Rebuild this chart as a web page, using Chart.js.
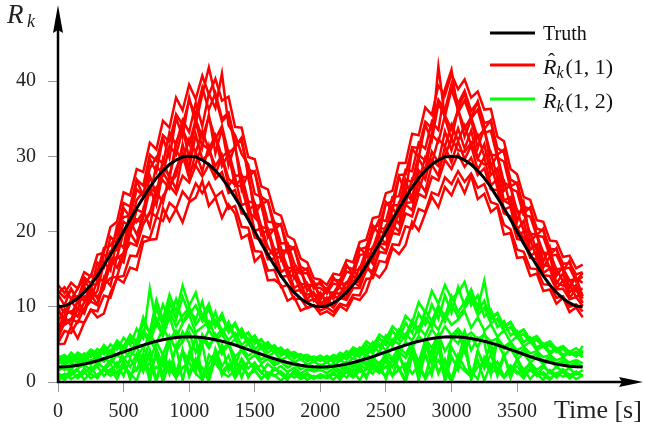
<!DOCTYPE html>
<html>
<head>
<meta charset="utf-8">
<script src="https://cdn.jsdelivr.net/npm/chart.js@4.4.1/dist/chart.umd.min.js"></script>
<style>
  html, body { margin: 0; padding: 0; background: #fff; }
  #wrap { width: 645px; height: 433px; }
</style>
</head>
<body>
<div id="wrap"><canvas id="chart" width="645" height="433"></canvas></div>
<script>
// sample times [s]
const times = [0,50,100,150,200,250,300,350,400,450,500,550,600,650,700,750,800,850,900,950,
  1000,1050,1100,1150,1200,1250,1300,1350,1400,1450,1500,1550,1600,1650,1700,1750,1800,1850,1900,1950,
  2000,2050,2100,2150,2200,2250,2300,2350,2400,2450,2500,2550,2600,2650,2700,2750,2800,2850,2900,2950,
  3000,3050,3100,3150,3200,3250,3300,3350,3400,3450,3500,3550,3600,3650,3700,3750,3800,3850,3900,3950,4000];

// true values
const truth11 = [10,10.1,10.5,11.1,11.9,12.9,14.1,15.5,16.9,18.4,20,21.6,23.1,24.5,25.9,27.1,28.1,28.9,29.5,29.9,
  30,29.9,29.5,28.9,28.1,27.1,25.9,24.5,23.1,21.6,20,18.4,16.9,15.5,14.1,12.9,11.9,11.1,10.5,10.1,
  10,10.1,10.5,11.1,11.9,12.9,14.1,15.5,16.9,18.4,20,21.6,23.1,24.5,25.9,27.1,28.1,28.9,29.5,29.9,
  30,29.9,29.5,28.9,28.1,27.1,25.9,24.5,23.1,21.6,20,18.4,16.9,15.5,14.1,12.9,11.9,11.1,10.5,10.1,10];
const truth12 = [2,2.02,2.1,2.22,2.38,2.59,2.82,3.09,3.38,3.69,4,4.31,4.62,4.91,5.18,5.41,5.62,5.78,5.9,5.98,
  6,5.98,5.9,5.78,5.62,5.41,5.18,4.91,4.62,4.31,4,3.69,3.38,3.09,2.82,2.59,2.38,2.22,2.1,2.02,
  2,2.02,2.1,2.22,2.38,2.59,2.82,3.09,3.38,3.69,4,4.31,4.62,4.91,5.18,5.41,5.62,5.78,5.9,5.98,
  6,5.98,5.9,5.78,5.62,5.41,5.18,4.91,4.62,4.31,4,3.69,3.38,3.09,2.82,2.59,2.38,2.22,2.1,2.02,2];

// estimates R(1,1), one array per run
const red1 = [5.2,6.8,6.5,8.1,7.9,9.6,9.4,11.5,11.2,13.9,14.1,16.8,16.7,19.4,19.1,21.9,21.4,23.8,23.0,25.3,
  24.2,26.4,25.1,26.5,24.6,25.3,23.0,23.4,20.6,20.5,17.4,17.3,14.8,14.9,12.6,12.9,11.0,11.1,9.8,10.2,
  9.5,9.9,9.3,10.4,10.1,11.6,11.5,13.7,13.8,16.1,15.9,18.3,18.2,20.7,20.4,23.0,22.6,25.2,24.8,27.2,
  26.3,28.0,26.6,27.7,25.8,26.3,23.9,23.6,20.9,20.3,17.6,17.3,15.1,15.0,13.0,12.9,11.2,11.4,10.0,10.3,9.4];
const red2 = [11.8,12.6,11.0,12.4,13.9,13.1,14.6,17.8,18.1,19.7,23.8,23.3,26.9,26.1,30.2,29.4,32.8,31.9,35.6,34.2,
  37.4,35.5,39.1,36.2,38.4,35.0,35.8,32.0,31.9,28.2,27.9,24.6,24.0,21.1,20.9,18.2,17.8,15.3,14.9,13.1,
  13.0,12.3,13.6,13.5,15.3,15.0,17.6,17.9,20.6,20.8,23.7,24.0,27.5,27.6,31.2,31.1,34.6,33.7,37.5,36.1,
  39.6,37.0,38.7,36.0,37.2,34.4,34.7,31.1,30.5,26.9,26.4,23.3,23.0,20.4,20.1,17.7,17.6,15.7,15.8,14.3,14.6];
const red3 = [7.2,8.9,9.4,8.7,10.6,11.9,11.3,12.6,15.8,16.4,17.1,20.3,21.6,21.0,22.4,25.9,26.8,25.7,28.3,30.4,
  28.1,29.0,31.6,30.9,28.7,30.1,27.0,26.2,26.0,22.6,21.9,20.8,17.9,16.7,16.5,14.2,14.1,12.2,11.6,11.8,
  10.5,10.9,11.4,11.1,12.5,13.4,13.2,14.8,17.1,18.4,18.3,19.8,22.7,23.8,23.9,25.4,28.2,29.5,28.7,30.0,
  32.4,30.8,30.6,31.8,29.6,28.9,29.0,25.8,24.1,23.6,20.4,19.1,18.9,16.5,15.6,15.3,13.2,12.8,12.9,11.3,11.7];
const red4 = [10.3,9.2,10.9,11.4,10.8,12.9,13.0,15.6,17.4,17.5,21.3,20.7,24.2,25.3,24.9,28.7,27.6,31.4,30.2,33.5,
  31.6,34.9,32.5,35.2,32.3,34.0,30.4,31.2,27.3,27.1,23.5,23.4,20.2,20.3,17.5,17.4,14.9,14.8,12.9,12.9,
  11.5,12.1,11.8,13.2,13.0,14.8,15.0,17.5,17.7,20.4,20.4,23.5,23.5,26.9,26.6,30.2,29.4,32.9,31.9,35.4,
  33.6,36.1,33.7,35.2,32.5,33.6,30.2,30.1,26.5,26.0,22.7,22.5,19.7,19.6,17.2,17.0,15.0,15.1,13.5,13.7,13.2];
const red5 = [5.8,7.9,8.4,7.9,9.8,10.7,10.2,12.9,13.8,14.0,17.0,18.5,18.1,21.0,22.6,22.0,24.7,26.1,25.0,27.4,
  26.5,28.8,27.3,28.9,27.0,27.9,25.1,25.5,22.4,22.3,19.2,18.9,16.3,16.4,14.0,14.1,12.1,12.2,10.7,11.0,
  10.0,10.5,9.9,11.2,10.9,12.5,12.5,14.9,14.8,17.3,17.1,19.8,19.6,22.4,22.0,25.0,24.5,27.3,26.8,29.5,
  28.3,30.3,28.6,29.8,27.5,28.4,25.6,25.5,22.4,22.0,19.0,18.8,16.5,16.3,14.2,14.1,12.3,12.4,11.0,11.3,10.1];
const red6 = [12.1,11.2,12.3,10.9,12.8,14.2,13.7,16.9,16.6,20.8,21.9,22.1,25.6,24.7,28.4,29.9,29.0,33.2,31.5,34.8,
  33.2,37.1,34.0,38.3,36.4,41.0,34.1,32.8,30.3,28.9,25.0,24.6,21.3,21.2,18.4,18.5,15.8,14.4,14.5,12.6,
  12.5,11.8,13.1,12.8,14.7,14.3,16.9,17.0,19.8,21.6,21.4,24.6,24.7,28.2,28.0,31.8,31.0,34.6,33.5,38.9,
  41.5,35.8,37.4,35.0,36.2,33.1,33.4,29.8,29.3,25.7,25.3,22.2,22.0,19.4,19.3,16.8,16.9,15.0,15.2,13.4,14.0];
const red7 = [8.0,9.7,9.1,10.6,11.4,11.0,13.5,13.6,16.3,16.6,19.9,19.7,22.9,22.5,25.8,25.1,28.4,27.5,30.8,29.4,
  32.3,30.5,33.3,30.9,32.8,29.9,30.7,27.4,27.5,24.0,23.8,20.6,20.4,17.6,17.6,15.2,15.1,13.0,13.0,11.5,
  11.6,10.9,11.9,11.7,13.3,13.0,15.3,15.5,18.0,18.1,20.8,20.8,23.9,23.7,27.0,26.6,29.9,29.1,32.3,31.3,
  34.2,32.1,34.1,31.5,32.8,30.0,30.5,27.0,26.8,23.3,22.9,20.1,19.9,17.5,17.3,15.1,15.0,13.4,13.5,12.2,12.4];
const red8 = [12.9,11.8,13.2,12.4,14.6,14.0,16.9,17.2,20.6,21.3,25.2,24.8,28.3,27.9,31.8,30.9,34.7,33.8,37.8,36.1,
  39.5,37.6,40.7,38.2,40.3,37.4,37.9,33.9,33.8,29.9,29.6,26.0,25.6,22.5,22.1,19.4,18.9,16.4,15.9,13.8,
  13.6,12.9,14.4,14.2,16.2,15.9,18.6,18.9,21.8,22.0,25.1,25.4,29.1,29.1,33.0,32.8,36.5,35.5,39.4,38.1,
  40.9,38.9,40.2,37.8,38.6,36.2,36.3,32.6,32.0,28.3,27.6,24.6,24.2,21.5,21.3,18.8,18.7,16.6,16.8,15.1,15.6];
const red9 = [5.0,5.1,7.4,5.8,7.9,9.6,8.6,9.1,11.9,13.8,13.2,15.2,14.9,18.6,18.9,19.0,23.1,21.4,23.0,21.2,
  23.9,24.5,26.7,23.4,24.5,21.8,23.6,22.4,19.1,19.6,16.0,16.9,13.5,13.6,12.9,10.8,11.3,9.5,9.9,10.2,
  9.0,9.4,8.8,10.1,9.5,11.2,10.9,12.0,14.6,13.9,15.1,17.8,17.0,18.2,21.3,20.1,22.4,24.6,23.2,25.9,
  24.8,26.9,25.1,27.4,24.3,25.0,22.6,23.3,19.6,19.8,16.5,16.6,14.1,14.4,12.1,12.3,10.4,11.2,9.3,9.9,8.6];
const red10 = [9.6,8.1,10.8,9.5,12.7,10.9,12.1,15.9,14.8,18.9,17.8,23.0,21.3,22.6,27.4,24.9,29.6,27.0,31.9,33.8,
  29.7,34.6,31.2,35.5,30.4,33.7,28.8,31.5,25.6,27.8,22.1,23.9,19.2,20.4,16.3,17.9,13.8,15.0,12.1,13.3,
  10.9,12.4,11.0,13.5,12.2,14.9,13.9,17.6,16.2,20.3,19.4,23.1,22.0,26.8,24.3,29.7,28.1,32.6,41.9,35.1,
  32.2,36.3,32.6,34.9,31.1,33.8,28.7,30.1,25.4,26.2,21.3,23.9,18.7,19.6,16.0,17.9,14.1,15.3,12.6,13.9,11.4];
const red11 = [6.4,8.7,7.5,9.8,9.1,11.6,10.3,13.9,12.8,16.7,15.9,19.8,18.4,22.9,20.6,25.4,23.8,27.5,25.6,30.2,
  27.1,30.5,28.0,31.4,27.6,30.0,26.1,27.2,23.5,23.9,20.1,20.4,16.8,17.7,14.6,15.2,12.5,13.1,11.0,11.9,
  10.1,11.2,9.9,11.8,11.1,13.3,12.7,15.6,14.1,18.2,17.4,20.9,20.0,23.6,22.8,26.7,25.3,28.9,27.4,31.3,
  29.2,32.0,29.6,31.4,28.2,29.9,26.1,27.0,22.9,23.3,19.3,20.0,16.8,17.3,14.5,15.1,12.4,13.5,11.2,12.3,10.5];
const red12 = [11.6,10.2,12.4,10.9,13.6,12.1,15.9,15.2,19.3,18.4,23.1,21.9,26.8,24.7,29.6,27.9,32.4,29.8,35.1,32.6,
  37.8,34.3,38.2,41.8,37.9,34.6,35.6,31.2,32.5,27.3,28.0,23.6,24.1,20.3,21.0,17.2,17.9,14.6,15.1,12.4,
  13.4,11.8,13.9,12.8,15.6,14.2,17.8,16.9,20.8,19.6,23.9,22.8,27.3,25.1,31.0,29.8,34.2,32.1,37.0,35.3,
  38.9,36.2,38.4,35.1,37.3,33.6,34.8,30.2,30.9,26.0,26.5,22.4,23.2,19.5,20.4,16.9,17.8,14.8,16.1,13.4,14.5];
const red13 = [9.9,7.6,8.2,10.9,9.3,12.6,11.1,12.4,16.3,15.2,17.1,21.4,19.6,21.8,25.7,23.5,27.9,26.3,27.4,31.6,
  28.4,32.9,29.6,30.2,32.5,28.7,30.3,26.1,27.0,22.8,23.6,19.5,20.3,16.6,17.8,14.3,15.2,12.0,13.1,10.8,
  11.9,10.3,11.7,12.6,11.6,14.1,13.4,16.9,15.7,19.4,18.3,22.1,21.0,25.2,24.0,28.1,26.9,30.6,29.2,33.3,
  30.8,33.7,31.0,33.4,29.7,31.6,27.5,28.4,24.1,24.6,20.2,21.4,17.6,18.3,15.2,16.7,13.1,14.4,11.9,12.9,11.1];

// estimates R(1,2), one array per run
const green1 = [0.6,1.1,0.4,0.9,1.3,0.5,1.0,1.6,0.8,1.4,1.9,1.0,1.7,2.4,0.9,2.0,1.2,2.8,0.6,1.9,
  2.6,1.1,0.3,1.8,2.5,1.3,0.7,1.6,2.2,0.9,1.5,0.5,1.2,0.8,1.4,0.6,1.1,0.4,0.9,0.6,
  0.8,0.5,1.0,0.7,1.3,0.6,1.5,0.9,1.8,1.2,2.1,0.8,1.7,2.5,1.1,2.2,0.4,1.9,2.9,1.3,
  0.2,2.3,1.5,0.7,2.0,2.7,1.2,1.8,0.6,1.4,2.1,0.9,1.6,0.8,1.3,0.5,1.1,1.7,0.9,1.4,0.7,1.2];
const green2 = [2.8,2.2,3.1,2.5,3.4,2.7,3.6,3.0,4.2,3.5,4.6,4.0,5.4,4.4,6.3,5.1,7.2,5.6,6.8,5.3,
  7.5,6.1,5.2,6.9,5.5,6.4,4.8,5.7,4.3,5.1,3.8,4.6,3.3,4.0,2.9,3.4,2.6,3.1,2.3,2.7,
  2.2,2.6,2.0,2.9,2.4,3.2,2.7,3.6,3.1,4.0,3.5,4.5,4.0,5.3,4.6,6.1,5.2,7.0,5.8,7.4,
  6.2,7.1,5.9,6.6,5.7,6.3,5.4,5.8,4.7,5.3,4.2,4.7,3.8,4.1,3.3,3.6,2.9,3.2,2.6,2.9,2.5];
const green3 = [3.2,3.6,2.9,3.9,3.4,4.3,3.8,4.6,4.1,5.3,4.7,6.2,5.4,7.8,6.6,10.9,8.3,11.6,9.2,12.8,
  10.1,11.9,8.7,10.4,7.6,9.1,6.8,7.9,5.9,6.6,5.2,5.7,4.4,4.9,3.8,4.3,3.3,3.7,2.9,3.3,
  2.8,3.4,3.0,3.9,3.5,4.6,4.1,5.4,4.8,6.3,5.7,7.4,6.6,8.8,7.9,10.6,9.2,12.1,10.4,12.9,
  11.1,11.8,13.3,10.2,11.5,8.7,9.6,7.3,8.1,6.2,6.8,5.3,5.9,4.6,5.1,4.0,4.5,3.6,4.1,3.4,4.2];
const green4 = [1.5,2.0,1.2,1.8,2.3,1.6,2.5,1.9,2.9,2.2,3.3,2.0,3.8,1.4,4.2,0.3,3.6,1.1,4.8,0.2,
  3.9,1.5,5.1,0.6,4.4,2.1,3.5,0.9,3.1,1.8,2.6,1.2,2.4,1.6,2.1,1.3,1.9,1.1,1.7,1.4,
  1.6,1.2,1.8,1.0,2.1,1.4,2.4,1.7,2.8,1.3,3.2,2.0,3.6,1.1,4.1,0.4,3.8,0.9,4.6,0.1,
  3.4,1.6,4.9,0.5,4.2,1.8,3.7,0.8,3.3,1.5,2.9,1.1,2.6,1.6,2.3,1.2,2.0,1.4,1.8,1.0,1.6];
const green5 = [2.4,3.0,2.6,3.3,2.8,3.7,3.1,4.2,3.6,4.8,4.1,5.6,4.7,6.8,5.9,8.4,6.7,9.5,7.4,8.8,
  9.9,7.6,8.9,7.0,8.2,6.4,7.5,5.8,6.6,5.1,5.7,4.4,5.0,3.9,4.3,3.4,3.8,3.0,3.3,2.7,
  3.1,2.6,3.2,2.8,3.6,3.1,4.0,3.5,4.7,4.0,5.6,4.8,6.5,5.6,7.7,6.5,8.6,7.3,9.6,8.0,
  10.4,8.6,9.8,11.2,8.9,9.9,7.8,8.4,6.7,7.3,5.9,6.4,5.2,5.6,4.6,4.9,4.0,4.4,3.6,3.9,3.3];
const green6 = [0.9,0.3,1.4,0.7,1.8,1.1,0.5,1.9,1.3,2.6,0.8,3.1,1.6,3.8,0.0,4.4,2.2,5.3,1.0,4.1,
  2.9,6.0,0.4,3.6,2.7,4.9,1.5,3.2,0.6,2.8,1.7,2.3,0.9,1.9,1.2,0.5,1.4,0.8,1.1,0.6,
  1.0,0.7,1.2,0.4,1.5,0.9,1.9,0.6,2.4,1.3,2.9,0.8,3.5,1.7,4.3,0.2,5.1,2.4,5.9,1.0,
  4.6,3.0,6.2,0.3,4.0,2.5,5.2,1.2,3.7,0.5,3.1,1.6,2.5,0.9,2.0,1.3,0.6,1.5,0.8,1.2,0.9];
const green7 = [3.0,2.5,3.4,2.9,3.8,3.3,4.4,3.7,5.0,4.3,5.9,4.9,7.1,5.8,12.4,7.6,10.3,8.4,11.0,7.9,
  9.6,8.3,10.7,7.2,9.3,6.5,8.0,6.1,7.1,5.4,6.2,4.8,5.3,4.2,4.6,3.7,4.0,3.4,3.6,3.1,
  3.5,3.0,3.6,3.2,4.1,3.6,4.6,4.0,5.3,4.6,6.2,5.3,7.0,6.1,8.2,7.0,9.5,8.1,10.2,8.7,
  11.4,9.3,10.6,12.3,9.8,13.5,8.6,9.2,7.4,8.0,6.5,7.0,5.7,6.1,5.0,5.4,4.4,4.8,4.0,4.5,3.8];
const green8 = [1.8,2.3,1.6,2.7,2.1,2.9,2.4,3.2,2.6,3.6,3.0,4.1,3.3,4.6,2.8,5.3,3.6,6.1,4.2,5.4,
  6.6,3.9,5.8,4.5,6.3,3.7,5.0,3.4,4.2,2.9,3.6,2.5,3.1,2.2,2.7,1.9,2.4,1.7,2.1,1.6,
  1.9,1.7,2.2,1.5,2.5,1.9,2.8,2.2,3.1,2.5,3.5,2.9,4.0,3.2,4.7,2.7,5.5,3.5,6.3,4.1,
  5.6,6.8,4.0,6.0,4.6,6.5,3.8,5.2,3.5,4.4,3.0,3.8,2.6,3.3,2.3,2.9,2.0,2.6,1.8,2.3,2.1];
const green9 = [0.2,0.8,1.5,0.5,1.2,2.0,0.7,1.6,2.4,1.0,2.8,0.4,3.2,1.5,2.6,0.0,3.7,1.9,0.5,4.3,
  1.2,3.1,0.3,2.5,4.0,0.9,2.2,1.4,3.0,0.6,2.1,1.3,0.4,1.8,1.0,0.3,1.5,0.7,1.2,0.4,
  1.0,0.6,1.4,0.3,1.7,1.0,2.2,0.5,2.7,1.5,0.8,3.1,1.9,0.2,3.6,2.3,0.6,4.2,1.1,3.0,
  0.0,2.6,4.4,1.3,0.4,3.3,1.8,2.7,0.7,2.2,1.4,0.5,1.9,1.1,0.3,1.6,0.9,1.3,0.5,1.2,0.8];
const green10 = [3.5,2.7,3.9,3.1,2.6,3.8,3.3,4.5,3.4,4.9,4.3,5.8,4.6,6.6,5.2,7.9,6.1,8.7,5.9,7.8,
  8.9,6.6,7.3,8.1,6.0,7.0,5.6,6.5,4.9,5.8,4.4,5.0,3.9,4.5,3.5,4.0,3.1,3.6,2.8,3.2,
  3.0,3.3,2.6,3.5,3.0,3.9,3.3,4.4,3.8,5.1,4.2,5.7,5.0,6.4,5.5,7.3,6.2,8.1,6.9,9.0,
  7.6,8.3,9.4,7.2,8.6,6.8,7.7,6.0,6.9,5.3,6.1,4.7,5.4,4.2,4.8,3.7,4.3,3.3,3.9,3.4,4.8];
const green11 = [2.1,1.6,2.5,2.0,2.9,2.3,3.2,2.7,3.6,1.9,4.1,3.3,4.7,2.5,5.6,4.1,0.8,5.9,4.4,6.7,
  5.2,1.4,6.3,5.0,5.8,4.3,5.2,2.0,4.6,3.5,4.1,3.0,3.5,2.6,3.0,2.4,2.7,2.1,2.4,1.9,
  2.3,1.9,2.4,2.0,2.7,2.2,3.0,2.5,3.5,2.0,4.0,3.2,4.6,3.7,5.3,1.2,5.8,4.5,6.4,0.6,
  6.0,5.1,6.8,4.2,5.9,5.3,1.0,5.6,4.4,5.0,3.6,4.3,3.2,3.8,2.7,3.3,2.4,2.9,2.2,2.6,2.0];
const green12 = [2.9,3.4,2.4,3.7,3.0,4.0,3.5,4.9,3.9,5.5,4.6,6.3,5.3,8.6,6.4,9.8,7.5,10.6,8.3,11.3,
  9.0,10.2,8.1,9.7,7.3,8.6,6.6,7.6,5.9,6.5,5.1,5.6,4.4,4.8,3.8,4.2,3.4,3.7,3.0,3.4,
  2.9,3.5,2.9,3.8,3.2,4.3,3.7,4.9,4.2,5.8,4.9,6.8,5.6,7.9,6.5,9.1,7.6,10.3,8.4,11.5,
  9.2,12.6,10.1,11.7,9.4,10.8,8.3,9.1,7.2,7.9,6.3,6.9,5.5,6.0,4.8,5.2,4.1,4.6,3.7,4.0,3.6];
const green13 = [1.2,0.5,0.9,1.6,0.3,1.3,2.1,0.8,1.7,0.4,2.3,1.1,0.2,2.9,1.5,3.4,0.0,2.6,1.3,3.9,
  0.7,2.8,1.9,0.1,3.3,1.4,2.4,0.5,1.9,1.0,1.6,0.4,1.3,0.9,0.2,1.1,0.6,1.0,0.3,0.8,
  0.5,0.9,0.3,1.2,0.6,1.6,0.2,1.9,1.1,2.5,0.4,2.9,1.6,0.0,3.4,2.1,0.7,3.9,1.4,2.7,
  0.3,3.6,1.9,0.8,2.9,0.2,2.4,1.5,0.6,2.0,1.1,1.7,0.4,1.4,0.9,0.3,1.2,0.7,1.0,0.4,0.9];

const xTicks = [0, 500, 1000, 1500, 2000, 2500, 3000, 3500];
const yTicks = [0, 10, 20, 30, 40];

const RED = '#ff0000';
const GREEN = '#00ff00';
const SERIF = "'Liberation Serif', 'DejaVu Serif', serif";

const redRuns = [red1, red2, red3, red4, red5, red6, red7, red8, red9, red10, red11, red12, red13];
const greenRuns = [green1, green2, green3, green4, green5, green6, green7, green8, green9, green10, green11, green12, green13];

function pts(values) {
  return values.map((v, i) => ({ x: times[i], y: v }));
}

// first dataset is drawn on top, so the truth curves go first
const datasets = [
  { data: pts(truth11), borderColor: '#000', borderWidth: 3 },
  { data: pts(truth12), borderColor: '#000', borderWidth: 3 }
];
greenRuns.forEach(r => datasets.push({ data: pts(r), borderColor: GREEN, borderWidth: 2.5 }));
redRuns.forEach(r => datasets.push({ data: pts(r), borderColor: RED, borderWidth: 2.5 }));

// axes with arrows, axis names and legend
const decor = {
  id: 'decor',
  afterDraw(chart) {
    const ctx = chart.ctx;
    const a = chart.chartArea;
    const x0 = chart.scales.x.getPixelForValue(0);
    const y0 = chart.scales.y.getPixelForValue(0);
    ctx.save();
    ctx.strokeStyle = '#000';
    ctx.fillStyle = '#000';
    ctx.lineWidth = 2.5;
    ctx.beginPath();
    ctx.moveTo(x0, y0 + 1.2);
    ctx.lineTo(x0, a.top + 22);
    ctx.moveTo(x0 - 1.2, y0);
    ctx.lineTo(a.right - 18, y0);
    ctx.stroke();
    ctx.beginPath();
    ctx.moveTo(x0, a.top);
    ctx.lineTo(x0 + 5, a.top + 28);
    ctx.lineTo(x0, a.top + 25);
    ctx.lineTo(x0 - 5, a.top + 28);
    ctx.closePath();
    ctx.fill();
    ctx.beginPath();
    ctx.moveTo(a.right, y0);
    ctx.lineTo(a.right - 24, y0 - 5);
    ctx.lineTo(a.right - 21, y0);
    ctx.lineTo(a.right - 24, y0 + 5);
    ctx.closePath();
    ctx.fill();

    ctx.fillStyle = '#222';
    ctx.textBaseline = 'alphabetic';
    ctx.textAlign = 'left';
    // y axis name
    ctx.font = 'italic 27px ' + SERIF;
    ctx.fillText('R', 7, 23);
    ctx.font = 'italic 18px ' + SERIF;
    ctx.fillText('k', 27, 27);
    // x axis name
    ctx.font = '26px ' + SERIF;
    ctx.fillText('Time [s]', 554, 418);

    // legend
    const rows = [
      { y: 33, color: '#000' },
      { y: 65, color: RED },
      { y: 99, color: GREEN }
    ];
    rows.forEach(r => {
      ctx.strokeStyle = r.color;
      ctx.lineWidth = 3;
      ctx.beginPath();
      ctx.moveTo(490, r.y);
      ctx.lineTo(535, r.y);
      ctx.stroke();
    });
    ctx.fillStyle = '#111';
    ctx.font = '20px ' + SERIF;
    ctx.fillText('Truth', 543, 40);
    [['(1, 1)', 74], ['(1, 2)', 108]].forEach(([txt, base]) => {
      let x = 543;
      ctx.font = 'italic 22px ' + SERIF;
      ctx.fillText('R', x, base);
      const wR = ctx.measureText('R').width;
      ctx.font = '21px ' + SERIF;
      ctx.fillText('\u02C6', x + 5, base - 6);
      x += wR;
      ctx.font = 'italic 16px ' + SERIF;
      ctx.fillText('k', x, base + 4);
      x += ctx.measureText('k').width + 2;
      ctx.font = '22px ' + SERIF;
      ctx.fillText(txt, x, base);
    });
    ctx.restore();
  }
};

new Chart(document.getElementById('chart'), {
  type: 'line',
  data: { datasets: datasets },
  options: {
    responsive: false,
    animation: false,
    events: [],
    layout: { padding: { top: 5, right: 2, left: 0, bottom: 0 } },
    elements: { point: { radius: 0 }, line: { tension: 0 } },
    plugins: { legend: { display: false }, tooltip: { enabled: false } },
    scales: {
      x: {
        type: 'linear',
        min: 0,
        max: 4460,
        afterBuildTicks: s => { s.ticks = xTicks.map(v => ({ value: v })); },
        afterFit: s => { s.height = 51; s.paddingLeft = 0; s.paddingRight = 0; },
        border: { display: false },
        grid: { drawOnChartArea: false, drawTicks: true, tickLength: 10, color: '#999' },
        ticks: {
          autoSkip: false, maxRotation: 0, padding: 8, color: '#222',
          font: { family: SERIF, size: 20 },
          callback: v => String(v)
        }
      },
      y: {
        min: 0,
        max: 50.1,
        afterBuildTicks: s => { s.ticks = yTicks.map(v => ({ value: v })); },
        afterFit: s => { s.width = 58; s.paddingTop = 0; s.paddingBottom = 0; },
        border: { display: false },
        grid: { drawOnChartArea: false, drawTicks: true, tickLength: 10, color: '#999' },
        ticks: {
          padding: 12, color: '#222',
          font: { family: SERIF, size: 20 },
          callback: v => String(v)
        }
      }
    }
  },
  plugins: [decor]
});
</script>
</body>
</html>
